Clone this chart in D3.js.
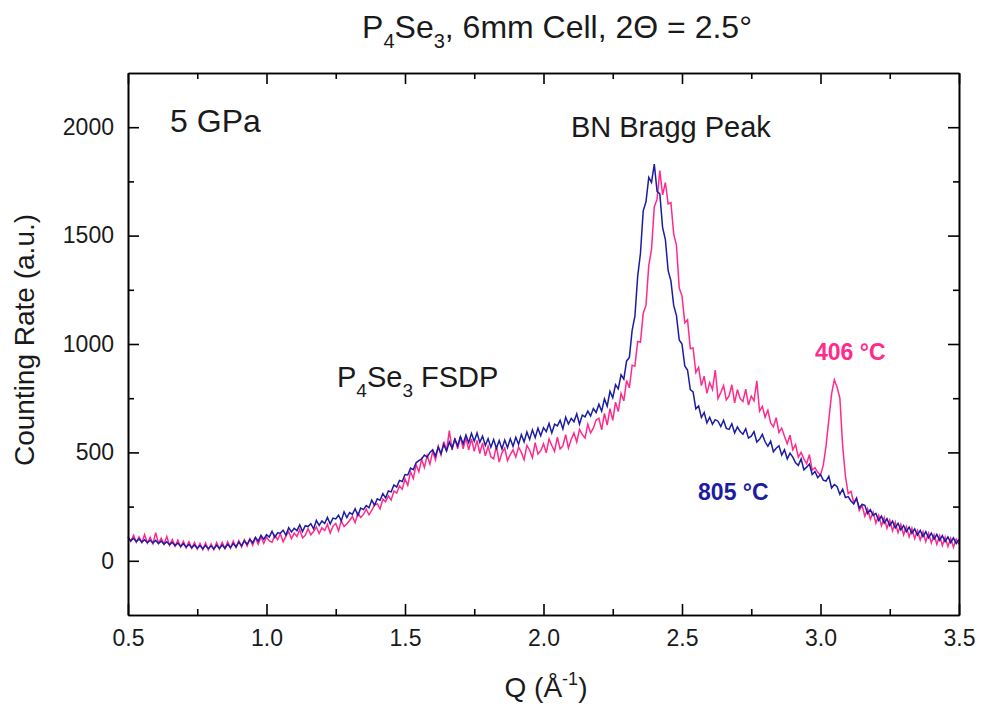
<html>

<head>
    <style>
        body {
            margin: 0;
            background: #fff;
        }

        text {
            font-family: "Liberation Sans", Arial, sans-serif;
            fill: #1a1a1a;
        }

        .axis path,
        .axis line {
            stroke: #000;
            stroke-width: 1.6px;
        }

        .axis text {
            font-size: 23px;
        }
    </style>
</head>

<body>
    <script src="https://d3js.org/d3.v7.min.js"></script>
    <script>
        // Q grid of the scan (0.5 .. 3.5, step 0.01)
        var qStart = 0.5, qStep = 0.01;

        // 805 °C scan
        var blue805 = [
            108, 92, 104, 88, 101, 86, 97, 83, 95, 82,
            94, 80, 91, 77, 88, 74, 85, 70, 82, 66,
            79, 63, 76, 60, 73, 58, 70, 55, 71, 56,
            69, 54, 72, 57, 73, 58, 76, 61, 80, 64,
            86, 70, 92, 76, 99, 83, 108, 90, 118, 99,
            121, 110, 136, 108, 129, 127, 141, 118, 153, 133,
            150, 139, 166, 135, 162, 158, 171, 147, 186, 163,
            184, 172, 200, 170, 197, 193, 210, 184, 226, 199,
            222, 214, 240, 209, 243, 236, 255, 245, 280, 256,
            286, 279, 310, 290, 322, 318, 350, 340, 371, 366,
            398, 396, 428, 420, 452, 462, 470, 488, 478, 500,
            512, 483, 524, 495, 537, 506, 548, 519, 561, 530,
            573, 540, 580, 545, 588, 552, 590, 546, 575, 532,
            563, 524, 559, 519, 555, 516, 557, 522, 563, 528,
            570, 537, 582, 549, 594, 560, 604, 568, 612, 577,
            614, 596, 633, 590, 630, 622, 648, 608, 662, 631,
            657, 641, 678, 630, 672, 664, 690, 668, 702, 684,
            722, 690, 747, 713, 782, 752, 812, 793, 858, 838,
            922, 938, 1063, 1128, 1312, 1418, 1614, 1656, 1768, 1745,
            1830, 1704, 1692, 1537, 1482, 1338, 1291, 1178, 1131, 1019,
            1000, 899, 880, 790, 779, 701, 714, 661, 684, 636,
            662, 630, 651, 644, 619, 648, 611, 606, 632, 590,
            618, 596, 584, 609, 566, 575, 596, 548, 560, 583,
            549, 528, 552, 503, 519, 530, 488, 512, 470, 496,
            478, 452, 440, 470, 420, 432, 446, 398, 412, 384,
            398, 372, 368, 390, 336, 352, 342, 306, 330, 292,
            296, 276, 262, 288, 244, 260, 256, 218, 236, 210,
            219, 186, 206, 174, 194, 162, 183, 152, 173, 143,
            163, 134, 155, 126, 147, 118, 140, 112, 134, 106,
            128, 100, 122, 94, 116, 88, 110, 84, 106, 80,
            99
        ];

        // 406 °C scan
        var pink406 = [
            112, 90, 118, 86, 110, 84, 121, 82, 108, 79,
            130, 80, 104, 76, 112, 72, 98, 68, 95, 64,
            90, 60, 88, 58, 84, 54, 80, 52, 82, 50,
            78, 52, 84, 54, 85, 56, 88, 58, 91, 61,
            93, 64, 97, 68, 102, 72, 106, 76, 110, 80,
            110, 92, 86, 118, 97, 125, 88, 114, 134, 102,
            128, 112, 144, 106, 118, 148, 120, 135, 156, 126,
            152, 140, 168, 128, 160, 172, 138, 184, 158, 170,
            186, 205, 176, 220, 200, 214, 238, 212, 232, 258,
            262, 240, 284, 272, 300, 280, 322, 312, 345, 330,
            378, 348, 411, 380, 443, 411, 468, 430, 486, 446,
            505, 466, 528, 488, 550, 508, 600, 512, 566, 516,
            572, 517, 566, 512, 562, 505, 555, 495, 544, 484,
            528, 480, 470, 530, 455, 498, 520, 462, 490, 512,
            478, 525, 500, 466, 532, 510, 476, 545, 492, 508,
            540, 498, 562, 532, 505, 570, 516, 530, 582, 520,
            560, 590, 548, 606, 582, 566, 630, 590, 612, 650,
            658, 604, 680, 626, 702, 648, 732, 688, 772, 738,
            832, 798, 902, 898, 1012, 1008, 1142, 1178, 1362, 1438,
            1632, 1668, 1800, 1688, 1745, 1646, 1652, 1508, 1455, 1258,
            1222, 1098, 1112, 978, 982, 868, 892, 808, 852, 772,
            822, 790, 880, 748, 776, 808, 742, 760, 812, 728,
            790, 748, 735, 792, 718, 760, 738, 830, 690, 712,
            662, 694, 636, 618, 660, 592, 612, 574, 540, 580,
            512, 536, 478, 500, 470, 448, 490, 418, 430, 408,
            395, 440, 530, 650, 770, 835, 800, 750, 530, 390,
            310, 320, 268, 290, 232, 256, 206, 240, 192, 224,
            174, 210, 162, 199, 150, 188, 138, 178, 130, 168,
            120, 158, 110, 150, 102, 140, 96, 134, 88, 128,
            82, 120, 76, 116, 70, 110, 66, 104, 62, 100,
            76
        ];

        var xMajor = [0.5, 1.0, 1.5, 2.0, 2.5, 3.0, 3.5];
        var xMinor = [0.75, 1.25, 1.75, 2.25, 2.75, 3.25];
        var yMajor = [0, 500, 1000, 1500, 2000];
        var yMinor = [250, 750, 1250, 1750];

        var width = 981, height = 710;

        var svg = d3.select("body")
            .append("svg")
            .attr("width", width)
            .attr("height", height);

        var x = d3.scaleLinear().domain([0.5, 3.5]).range([128, 959]);
        var y = d3.scaleLinear().domain([-250, 2250]).range([615, 73]);

        var qOf = function (i) { return qStart + i * qStep; };

        var line = d3.line()
            .x(function (d, i) { return x(qOf(i)); })
            .y(function (d) { return y(d); });

        // curves (pink under blue)
        svg.append("path")
            .datum(pink406)
            .attr("fill", "none")
            .attr("stroke", "#ff2a8c")
            .attr("stroke-width", 1.5)
            .attr("d", line);

        svg.append("path")
            .datum(blue805)
            .attr("fill", "none")
            .attr("stroke", "#1c1ca3")
            .attr("stroke-width", 1.5)
            .attr("d", line);

        // axes, ticks pointing inward on all four sides
        function addAxis(axis, tr, labels) {
            var g = svg.append("g").attr("class", "axis").attr("transform", tr).call(axis);
            if (!labels) g.selectAll("text").remove();
            return g;
        }

        addAxis(d3.axisBottom(x).tickValues(xMinor).tickSize(-6).tickSizeOuter(0).tickFormat(""), "translate(0,615)", false);
        addAxis(d3.axisTop(x).tickValues(xMinor).tickSize(-6).tickSizeOuter(0).tickFormat(""), "translate(0,73)", false);
        addAxis(d3.axisLeft(y).tickValues(yMinor).tickSize(-6).tickSizeOuter(0).tickFormat(""), "translate(128,0)", false);
        addAxis(d3.axisRight(y).tickValues(yMinor).tickSize(-6).tickSizeOuter(0).tickFormat(""), "translate(959,0)", false);

        addAxis(d3.axisBottom(x).tickValues(xMajor).tickSize(-11).tickSizeOuter(0).tickPadding(15).tickFormat(d3.format(".1f")), "translate(0,615)", true);
        addAxis(d3.axisTop(x).tickValues(xMajor).tickSize(-11).tickSizeOuter(0).tickFormat(""), "translate(0,73)", false);
        addAxis(d3.axisLeft(y).tickValues(yMajor).tickSize(-11).tickSizeOuter(0).tickPadding(14).tickFormat(d3.format("d")), "translate(128,0)", true);
        addAxis(d3.axisRight(y).tickValues(yMajor).tickSize(-11).tickSizeOuter(0).tickFormat(""), "translate(959,0)", false);

        svg.selectAll(".axis text").attr("fill", "#1a1a1a");

        // helper for text with sub/superscripts: parts = [[text, shift]]
        function richText(px, py, size, parts, anchor) {
            var t = svg.append("text")
                .attr("x", px).attr("y", py)
                .attr("font-size", size)
                .attr("text-anchor", anchor || "start");
            var cur = 0;
            parts.forEach(function (p) {
                var shift = p[1] || 0;
                t.append("tspan")
                    .attr("dy", shift - cur)
                    .attr("font-size", shift ? Math.round(size * 0.64) : size)
                    .text(p[0]);
                cur = shift;
            });
            return t;
        }

        // title
        richText(557, 38, 32, [["P"], ["4", 10], ["Se"], ["3", 10], [", 6mm Cell, 2\u0398 = 2.5\u00b0"]], "middle");

        // axis titles
        richText(546, 697, 28, [["Q (\u00c5"], ["-1", -12], [")"]], "middle");
        svg.append("text")
            .attr("transform", "translate(34,340) rotate(-90)")
            .attr("text-anchor", "middle")
            .attr("font-size", 28)
            .text("Counting Rate (a.u.)");

        // annotations
        svg.append("text")
            .attr("x", x(0.652)).attr("y", y(1978))
            .attr("font-size", 32)
            .text("5 GPa");

        svg.append("text")
            .attr("x", x(2.099)).attr("y", y(1955))
            .attr("font-size", 29)
            .text("BN Bragg Peak");

        richText(x(1.2545), y(802), 29, [["P"], ["4", 10], ["Se"], ["3", 10], [" FSDP"]]);

        svg.append("text")
            .attr("x", x(2.98)).attr("y", y(926))
            .attr("font-size", 23)
            .attr("font-weight", "bold")
            .style("fill", "#ff2a8c")
            .text("406 \u00b0C");

        svg.append("text")
            .attr("x", x(2.558)).attr("y", y(280))
            .attr("font-size", 23)
            .attr("font-weight", "bold")
            .style("fill", "#1c1ca3")
            .text("805 \u00b0C");
    </script>
</body>

</html>
